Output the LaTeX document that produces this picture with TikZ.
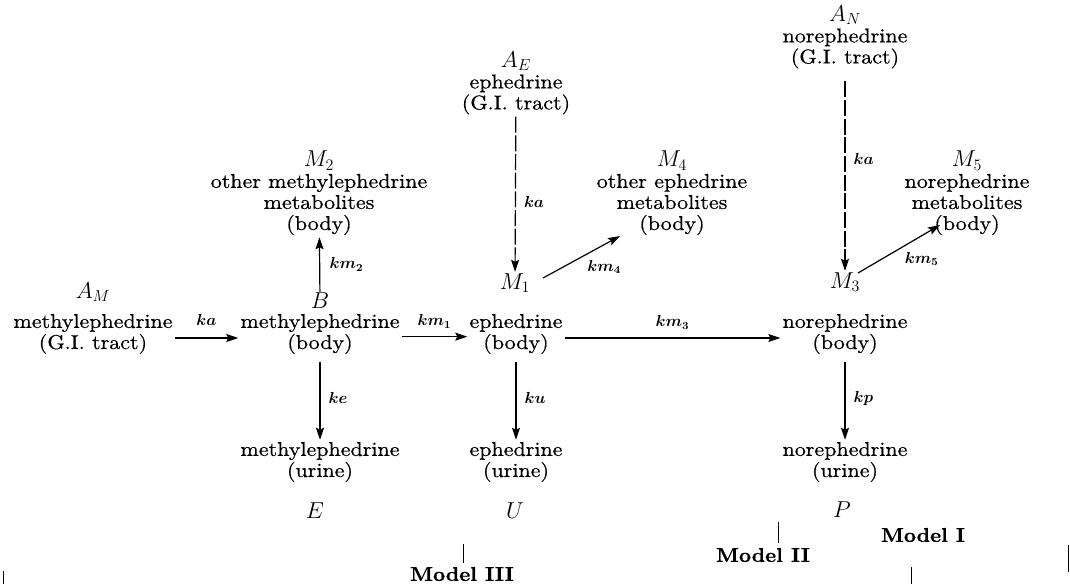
\documentclass[tikz,border=0pt]{standalone}
\usepackage{fontspec}
\setmainfont{lmroman10-regular}[Extension=.otf, FakeStretch=1.1, FakeBold=0.6, ItalicFont=lmroman10-italic, BoldFont=lmroman10-bold, BoldFeatures={FakeStretch=1.05}, BoldItalicFont=lmroman10-bolditalic]
\usetikzlibrary{arrows.meta,calc,positioning}
\newcommand\mth[1]{{\fontsize{17}{15.8}\selectfont$#1$}}
\begin{document}
\begin{tikzpicture}[x=0.75pt,y=-0.75pt,
  txt/.style={align=center, inner sep=1.5pt, font=\fontsize{15}{15.8}\selectfont},
  sym/.style={inner sep=1pt, font=\fontsize{17}{17}\selectfont},
  mdl/.style={inner sep=0.5pt, font=\fontsize{15}{15}\selectfont\bfseries},
  rate/.style={inner sep=0pt, font=\fontsize{12}{12}\selectfont\boldmath},
  arr/.style={line width=0.9pt, -{Stealth[length=9pt,width=6pt,inset=1.5pt]}},
  dsh/.style={arr, dash pattern=on 12pt off 2pt},
  tick/.style={line width=0.6pt}]
\useasboundingbox (0,0) rectangle (1070,584);
% nodes
\node[sym] (AM) at (93,292) {$A_M$};
\node[txt] (GIM) at (93,334) {methylephedrine\\(G.I. tract)};
\node[sym] (B) at (320,301) {$B$};
\node[txt] (MB) at (320,334) {methylephedrine\\(body)};
\node[txt] (M2) at (319,193) {\mth{M_2}\\other methylephedrine\\metabolites\\(body)};
\node[sym] (M1) at (515,283) {$M_1$};
\node[txt] (EB) at (516,334) {ephedrine\\(body)};
\node[txt] (AE) at (516,83) {\mth{A_E}\\ephedrine\\(G.I. tract)};
\node[txt] (M4) at (672,193) {\mth{M_4}\\other ephedrine\\metabolites\\(body)};
\node[sym] (M3) at (845,282) {$M_3$};
\node[txt] (NB) at (845,334) {norephedrine\\(body)};
\node[txt] (AN) at (845,37) {\mth{A_N}\\norephedrine\\(G.I. tract)};
\node[txt] (M5) at (967,193) {\mth{M_5}\\norephedrine\\metabolites\\(body)};
\node[txt] (MU) at (320,462) {methylephedrine\\(urine)};
\node[txt] (EU) at (516,462) {ephedrine\\(urine)};
\node[txt] (NU) at (845,462) {norephedrine\\(urine)};
\node[sym] (E) at (315,511) {$E$};
\node[sym] (U) at (515,511) {$U$};
\node[sym] (P) at (842,510) {$P$};
\node[mdl] (MI) at (923,535) {Model I};
\node[mdl] (MII) at (763,555) {Model II};
\node[mdl] (MIII) at (462,574) {Model III};
% connectors
\draw[arr] ([yshift=-3pt]GIM.east) -- node[rate, above=9pt] {$ka$} ([yshift=-3pt]MB.west);
\draw[arr] ([yshift=-2pt]MB.east) -- node[rate, above=6pt] {$km_1$} ([yshift=-2pt]EB.west);
\draw[arr] ([yshift=-3pt]EB.east) -- node[rate, above=6pt] {$km_3$} ([yshift=-3pt]NB.west);
\draw[arr] (B) -- node[rate, right=7pt] {$km_2$} (M2);
\draw[dsh] (AE) -- node[rate, right=6pt, pos=0.55] {$ka$} (M1);
\draw[dsh, shorten <=8pt] (AN) -- node[rate, right=6pt, pos=0.44] {$ka$} (M3);
\draw[arr] ($(M1)+(28,-5)$) -- node[rate, below right=2pt and 4pt] {$km_4$} ($(M4)+(-52,43)$);
\draw[arr] ($(M3)+(13,-9)$) -- node[rate, below right=2pt and 4pt] {$km_5$} ($(M5)+(-27,32)$);
\draw[arr, shorten <=4pt] (MB) -- node[rate, right=6pt] {$ke$} (MU);
\draw[arr, shorten <=4pt] (EB) -- node[rate, right=6pt] {$ku$} (EU);
\draw[arr, shorten <=4pt] (NB) -- node[rate, right=6pt] {$kp$} (NU);
% model ticks
\draw[tick] (778,522) -- (778,543);
\draw[tick] (463,544) -- (463,563);
\draw[tick] (911,567) -- (911,584);
\draw[tick] (1068,545) -- (1068,572);
\draw[tick] (3,571) -- (3,584);
\end{tikzpicture}
\end{document}
